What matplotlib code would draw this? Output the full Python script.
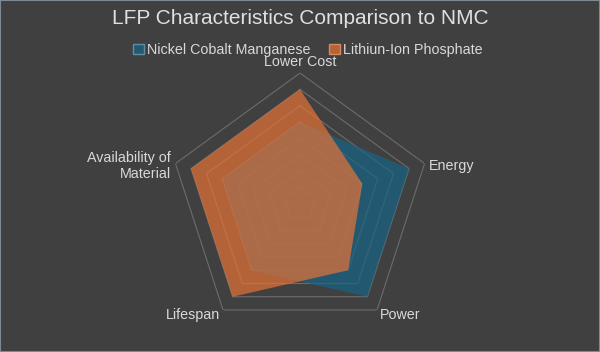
import numpy as np
import matplotlib
matplotlib.use("Agg")
import matplotlib.pyplot as plt
import matplotlib.transforms as mtransforms
from matplotlib.patches import Patch

# data
categories = ["Lower Cost", "Energy", "Power", "Lifespan", "Availability of\nMaterial"]
nmc = [5, 7, 7, 5, 5]
lfp = [7, 4, 5, 7, 7]
series_names = ["Nickel Cobalt Manganese", "Lithiun-Ion Phosphate"]
levels = [1, 2, 3, 4, 5, 6, 7, 8]

bg = "#404040"
txt = "#d9d9d9"
blue = "#176585"
orange = "#e77337"

plt.rcParams["font.family"] = ["Liberation Sans", "DejaVu Sans"]

fig = plt.figure(figsize=(6, 3.52), dpi=100, facecolor=bg)
fig.patches.append(plt.Rectangle((0, 0), 1, 1, transform=fig.transFigure,
                                 fill=False, edgecolor="#7d8a96", lw=1.5))

ax = fig.add_axes([0.2817, 0.0483, 0.4367, 0.7443], projection="polar")
ax.set_facecolor(bg)
ax.set_theta_offset(np.pi / 2)
ax.set_theta_direction(-1)

n = len(categories)
theta = np.linspace(0, 2 * np.pi, n, endpoint=False)
theta_c = np.append(theta, theta[0])

# pentagon gridlines
for lv in levels:
    ax.plot(theta_c, [lv] * (n + 1), color="#6c6c6c", lw=0.8, zorder=1)

ax.fill(theta_c, nmc + nmc[:1], color=blue, alpha=0.7, lw=0, zorder=2)
ax.fill(theta_c, lfp + lfp[:1], color=orange, alpha=0.7, lw=0, zorder=3)

ax.set_ylim(0, 8)
ax.set_xticks([])
ax.set_yticks([])
ax.grid(False)
ax.spines["polar"].set_visible(False)

# category labels (alignment + small pixel nudge)
r = 8.3
aligns = [("center", "bottom", -1), ("left", "center", -4), ("left", "center", -1),
          ("right", "center", -1), ("right", "center", -4)]
for t, lab, (ha, va, dy) in zip(theta, categories, aligns):
    off = mtransforms.ScaledTranslation(0, dy / 100, fig.dpi_scale_trans)
    ax.text(t, r, lab, ha=ha, va=va, color=txt, fontsize=10.3,
            multialignment="right", clip_on=False, transform=ax.transData + off)

fig.text(0.5, 0.948, "LFP Characteristics Comparison to NMC", ha="center", va="center",
         color="#e0e0e0", fontsize=15)

handles = [Patch(facecolor="#235a70", edgecolor="#5f8ea3", lw=1),
           Patch(facecolor="#b5643a", edgecolor="#d98a5c", lw=1)]
fig.legend(handles, series_names, loc="center", bbox_to_anchor=(0.513, 0.858), ncol=2,
           frameon=False, fontsize=10.3, labelcolor=txt, handlelength=0.8,
           handleheight=0.8, handletextpad=0.2, columnspacing=1.3, borderpad=0)

fig.savefig("out.png", dpi=100, facecolor=bg)
